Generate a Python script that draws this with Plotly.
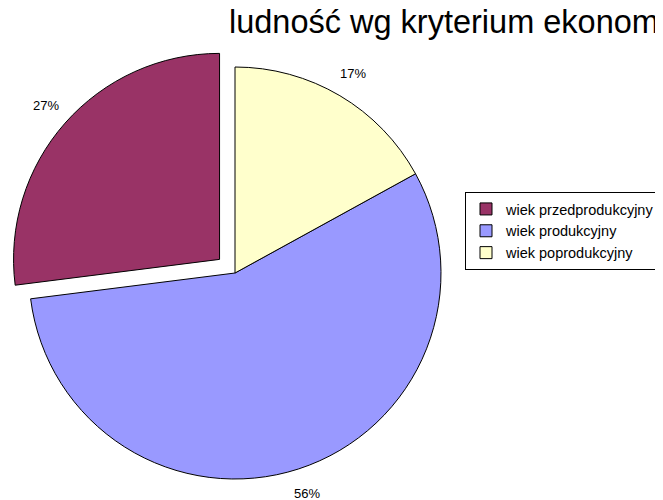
import math

import plotly.graph_objects as go

# age groups (legend order) and their shares in %
labels = ["wiek przedprodukcyjny", "wiek produkcyjny", "wiek poprodukcyjny"]
shares = [27, 56, 17]
colors = ["#993366", "#9999FF", "#FFFFCC"]
pulls = [0.1, 0, 0]

W, H = 663, 500
# pie geometry in figure pixels (page body adds an 8px offset on screen)
CX, CY, R = 227, 265, 206
LABEL_GAP = 26

max_pull = max(pulls)
half = R * (1 + max_pull)
total = sum(shares)
# first slice ends at 12 o'clock, the rest run counterclockwise
rotation = -shares[0] / total * 360

fig = go.Figure()
fig.add_trace(go.Pie(
    labels=labels,
    values=shares,
    sort=False,
    direction="counterclockwise",
    rotation=rotation,
    pull=pulls,
    marker={"colors": colors, "line": {"color": "#000000", "width": 1}},
    textinfo="none",
    domain={
        "x": [(CX - half) / W, (CX + half) / W],
        "y": [(H - CY - half) / H, (H - CY + half) / H],
    },
    hoverinfo="label+percent",
))

# percentage labels just outside each slice, on its bisector
start = rotation
for i, v in enumerate(shares):
    span = v / total * 360
    if i == 0:
        mid = start + span / 2
        end_angle = start
    else:
        mid = end_angle - span / 2
        end_angle -= span
    a = math.radians(mid)
    off = pulls[i] * R
    rr = R + LABEL_GAP
    px = CX + (off + rr) * math.sin(a)
    py = CY - (off + rr) * math.cos(a)
    fig.add_annotation(
        x=px / W, y=1 - py / H, xref="paper", yref="paper",
        text=f"{v}%", showarrow=False,
        xanchor="center", yanchor="middle",
        font={"size": 13, "color": "#000000"},
    )

fig.update_layout(
    width=W,
    height=H,
    margin={"l": 0, "r": 0, "t": 0, "b": 0, "autoexpand": False},
    paper_bgcolor="#FFFFFF",
    plot_bgcolor="#FFFFFF",
    font={"family": "Liberation Sans, Arial", "color": "#000000"},
    title={
        "text": "ludność wg kryterium ekonomicznym",
        "x": 221 / W,
        "xanchor": "left",
        "y": 0.972,
        "yanchor": "middle",
        "font": {"size": 32.5, "family": "Liberation Sans, Arial", "color": "#000000"},
    },
    legend={
        "x": 457 / W,
        "y": 1 - 184 / H,
        "xanchor": "left",
        "yanchor": "top",
        "bordercolor": "#000000",
        "borderwidth": 1,
        "font": {"size": 14.5},
        "itemwidth": 30,
        "traceorder": "normal",
    },
)

fig.write_html("out.html")
